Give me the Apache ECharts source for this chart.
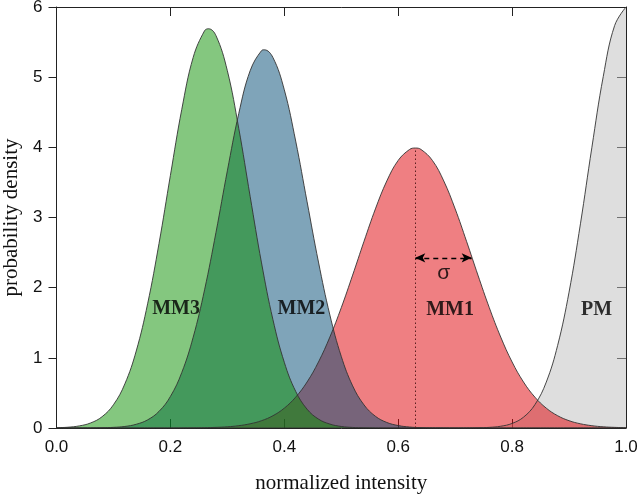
<!DOCTYPE html>
<html><head><meta charset="utf-8">
<script src="https://cdn.jsdelivr.net/npm/echarts@6/dist/echarts.min.js"></script>
<style>html,body{margin:0;padding:0;background:#fff}#c{width:638px;height:494px}</style>
</head><body><div id="c"></div>
<script>
var xs = [0.00,0.02,0.04,0.06,0.08,0.10,0.12,0.14,0.16,0.18,0.20,0.22,0.24,0.26,0.28,0.30,0.32,0.34,0.36,0.38,0.40,0.42,0.44,0.46,0.48,0.50,0.52,0.54,0.56,0.58,0.60,0.62,0.64,0.66,0.68,0.70,0.72,0.74,0.76,0.78,0.80,0.82,0.84,0.86,0.88,0.90,0.92,0.94,0.96,0.98,1.00];
var mm3 = [0.004,0.011,0.030,0.072,0.161,0.331,0.628,1.097,1.770,2.629,3.600,4.542,5.282,5.662,5.593,5.092,4.272,3.302,2.353,1.546,0.936,0.522,0.268,0.127,0.056,0.022,0.008,0.003,0.001,0,0,0,0,0,0,0,0,0,0,0,0,0,0,0,0,0,0,0,0,0,0];
var mm2 = [0,0,0,0.001,0.003,0.009,0.022,0.053,0.116,0.237,0.449,0.791,1.294,1.969,2.786,3.665,4.480,5.091,5.378,5.281,4.820,4.089,3.224,2.365,1.611,1.021,0.601,0.329,0.167,0.079,0.035,0.014,0.005,0.002,0.001,0,0,0,0,0,0,0,0,0,0,0,0,0,0,0,0];
var mm1 = [0,0,0,0,0,0,0,0,0,0,0,0.001,0.002,0.004,0.009,0.017,0.033,0.060,0.104,0.175,0.283,0.440,0.656,0.941,1.296,1.714,2.179,2.661,3.123,3.521,3.814,3.970,3.970,3.814,3.521,3.123,2.661,2.179,1.714,1.296,0.941,0.656,0.440,0.283,0.175,0.104,0.060,0.033,0.017,0.009,0.004];
var pm = [0,0,0,0,0,0,0,0,0,0,0,0,0,0,0,0,0,0,0,0,0,0,0,0,0,0,0,0,0,0,0,0,0,0,0,0,0.001,0.003,0.009,0.025,0.065,0.154,0.332,0.654,1.178,1.936,2.910,3.994,5.007,5.735,6.000];
// peak points (x, height)
var peakX = {MM3: 0.267, MM2: 0.365, MM1: 0.630};
var peakY = {MM3: 5.69, MM2: 5.39, MM1: 3.99};
var seriesNames = ['PM','MM1','MM2','MM3'];
var labelNames = ['MM3','MM2','MM1','PM'];
var labelX = [0.210,0.430,0.691,0.9485];
var labelY = [1.70,1.70,1.69,1.69];
var mm1Mean = 0.63, mm1Peak = 3.99, mm1SigmaEnd = 0.729, sigmaY = 2.425;

function pairs(ys, n){
  var out = xs.map(function(x,i){ return [x, ys[i]]; });
  if (peakX[n] !== undefined) {
    out.push([peakX[n], peakY[n]]);
    out.sort(function(a,b){ return a[0]-b[0]; });
  }
  return out;
}
var fills = {
  PM: 'rgb(189,189,189)',
  MM1: 'rgb(223,0,5)',
  MM2: 'rgb(0,73,115)',
  MM3: 'rgb(9,143,0)'
};
var vals = {PM: pm, MM1: mm1, MM2: mm2, MM3: mm3};
var axisCol = '#222';
var chart = echarts.init(document.getElementById('c'), null, {renderer:'canvas'});
var series = seriesNames.map(function(n){
  return {
    name: n, type: 'line', data: pairs(vals[n], n), smooth: 0.4,
    showSymbol: false, symbol: 'none', silent: true,
    lineStyle: {color: '#333', width: 0.9},
    areaStyle: {color: fills[n], opacity: 0.5, origin: 'start'},
    animation: false
  };
});
series.push({
  type: 'scatter', symbolSize: 0, silent: true, animation: false, z: 10,
  data: labelNames.map(function(n,i){ return {name: n, value: [labelX[i], labelY[i]]}; }),
  label: {show: true, position: 'inside', formatter: '{b}',
    fontFamily: 'Liberation Serif', fontWeight: 'bold', fontSize: 20, color: '#000'},
  markLine: {
    silent: true, animation: false, symbol: 'none',
    label: {show: false},
    data: [
      [{coord: [mm1Mean, 0], symbol: 'none', lineStyle: {type: [1.5,2.5], color: '#5a2020', width: 1}},
       {coord: [mm1Mean, mm1Peak], symbol: 'none'}],
      [{coord: [mm1Mean, sigmaY], symbol: 'arrow', symbolSize: [7,10], lineStyle: {type: [5,4], color: '#000', width: 1.3}},
       {coord: [mm1SigmaEnd, sigmaY], symbol: 'arrow', symbolSize: [7,10]}]
    ]
  }
});
series.push({
  type: 'scatter', symbolSize: 0, silent: true, animation: false, z: 10,
  data: [{name: 'σ', value: [0.680, 2.20]}],
  label: {show: true, position: 'inside', formatter: '{b}',
    fontFamily: 'Liberation Sans', fontSize: 21, color: '#000'}
});

var tickLabel = {fontFamily: 'Liberation Sans', fontSize: 17, color: '#111'};
chart.setOption({
  animation: false,
  grid: {left: 56.5, right: 12, top: 7, bottom: 66, containLabel: false, outerBoundsMode: 'none'},
  xAxis: [{
    type: 'value', min: 0, max: 1, interval: 0.2, position: 'bottom',
    name: 'normalized intensity', nameLocation: 'middle', nameGap: 45,
    nameTextStyle: {fontFamily: 'Liberation Serif', fontSize: 21, color: '#111'},
    axisLine: {show: true, onZero: false, lineStyle: {color: axisCol, width: 1}},
    axisTick: {show: true, inside: true, length: 9, lineStyle: {color: axisCol}},
    axisLabel: Object.assign({margin: 11, formatter: function(v){ return v.toFixed(1); }}, tickLabel),
    splitLine: {show: false}
  }, {
    type: 'value', min: 0, max: 1, interval: 0.2, position: 'top',
    axisLine: {show: true, onZero: false, lineStyle: {color: axisCol, width: 1}},
    axisTick: {show: true, inside: true, length: 9, lineStyle: {color: axisCol}},
    axisLabel: {show: false}, splitLine: {show: false}
  }],
  yAxis: [{
    type: 'value', min: 0, max: 6, interval: 1, position: 'left',
    name: 'probability density', nameLocation: 'middle', nameGap: 34,
    nameTextStyle: {fontFamily: 'Liberation Serif', fontSize: 21, color: '#111'},
    axisLine: {show: true, onZero: false, lineStyle: {color: axisCol, width: 1}},
    axisTick: {show: true, inside: false, length: 8, lineStyle: {color: axisCol}},
    axisLabel: Object.assign({margin: 14}, tickLabel),
    splitLine: {show: false}
  }, {
    type: 'value', min: 0, max: 6, interval: 1, position: 'right',
    axisLine: {show: true, onZero: false, lineStyle: {color: axisCol, width: 1}},
    axisTick: {show: true, inside: true, length: 9, lineStyle: {color: axisCol}},
    axisLabel: {show: false}, splitLine: {show: false}
  }],
  series: series
});
</script></body></html>
